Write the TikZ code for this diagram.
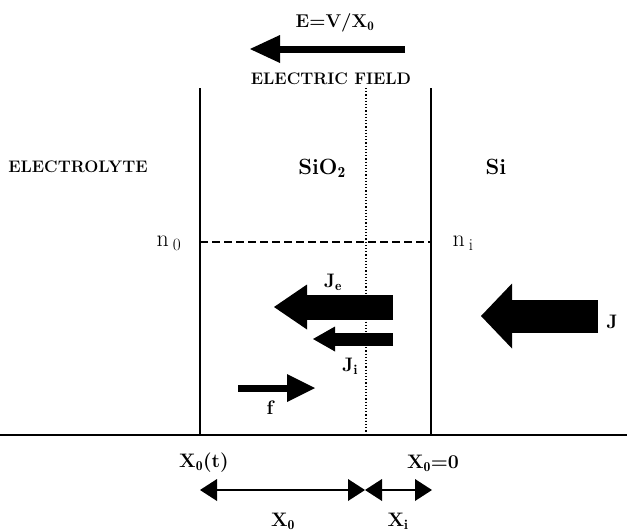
\documentclass[tikz,border=0pt]{standalone}
\usepackage{fontspec}
\usetikzlibrary{arrows.meta}
\begin{document}
\begin{tikzpicture}[x=1pt, y=-1pt,
      lbl/.style={inner sep=0pt, font=\fontsize{19.5}{22}\selectfont\bfseries},
      big/.style={inner sep=0pt, font=\fontsize{22}{24}\selectfont\bfseries},
      caps/.style={inner sep=0pt, font=\fontsize{16.7}{18}\selectfont\bfseries},
      conc/.style={inner sep=0pt, font=\fontsize{24}{26}\selectfont},
      wall/.style={line width=1.6pt},
      blk/.style n args={3}{line width=#1, -{Triangle[length=#2, width=#3, line width=0pt]}},
      dim/.style={line width=1.8pt, {Triangle[length=17pt, width=22pt, line width=0pt]}-{Triangle[length=17pt, width=22pt, line width=0pt]}}]
    \useasboundingbox (0,0) rectangle (627,531);
    % field on top
    \node[lbl, font=\fontsize{18.5}{20}\selectfont\bfseries] (ev) at (335,23) {E=V/X$_\mathbf{0}$};
    \coordinate (e0) at (405,49); \coordinate (e1) at (250,49);
    \draw[blk={7pt}{30pt}{28pt}] (e0) -- (e1);
    \node[caps] (ef) at (331,79) {ELECTRIC FIELD};
    % regions
    \node[caps] (ely) at (78,167) {ELECTROLYTE};
    \node[big] (ox) at (322,168) {SiO$_\mathbf{2}$};
    \node[big] (si) at (496,167) {Si};
    % walls and interfaces
    \coordinate (lt) at (200,88); \coordinate (lb) at (200,435);
    \coordinate (mt) at (366,88); \coordinate (mb) at (366,435);
    \coordinate (rt) at (431,88); \coordinate (rb) at (431,435);
    \coordinate (g0) at (0,435); \coordinate (g1) at (627,435);
    \draw[wall] (lt) -- (lb); \draw[wall] (rt) -- (rb); \draw[wall] (g0) -- (g1);
    \draw[line width=1.2pt, dotted] (mt) -- (mb);
    % concentrations
    \coordinate (c0) at (200,242); \coordinate (c1) at (431,242);
    \draw[line width=1.3pt, dash pattern=on 8pt off 4pt] (c0) -- (c1);
    \node[conc] (n0) at (169,243) {n\,$_0$};
    \node[conc] (ni) at (463,243) {n\,$_\mathrm{i}$};
    % fluxes
    \coordinate (je0) at (393,307); \coordinate (je1) at (274,307);
    \draw[blk={25pt}{33pt}{45pt}] (je0) -- (je1);
    \node[lbl] (je) at (333,282) {J$_\mathbf{e}$};
    \coordinate (ji0) at (393,339); \coordinate (ji1) at (313,339);
    \draw[blk={13pt}{22pt}{25pt}] (ji0) -- (ji1);
    \node[lbl] (ji) at (350,366) {J$_\mathbf{i}$};
    \coordinate (f0) at (238,388); \coordinate (f1) at (315,388);
    \draw[blk={7pt}{28pt}{28pt}] (f0) -- (f1);
    \node[lbl] (fl) at (270,408) {f};
    \coordinate (j0) at (598,316); \coordinate (j1) at (481,316);
    \draw[blk={33pt}{31pt}{65pt}] (j0) -- (j1);
    \node[lbl] (jl) at (612,322) {J};
    % thicknesses
    \node[lbl] (xt) at (204,463) {X$_\mathbf{0}$(t)};
    \node[lbl] (xz) at (433,463) {X$_\mathbf{0}$=0};
    \coordinate (d0) at (200,490); \coordinate (d1) at (365,490); \coordinate (d2) at (432,490);
    \draw[dim] (d0) -- (d1); \draw[dim] (d1) -- (d2);
    \node[lbl] (xo) at (283,521) {X$_\mathbf{0}$};
    \node[lbl] (xi) at (398,521) {X$_\mathbf{i}$};
\end{tikzpicture}
\end{document}
